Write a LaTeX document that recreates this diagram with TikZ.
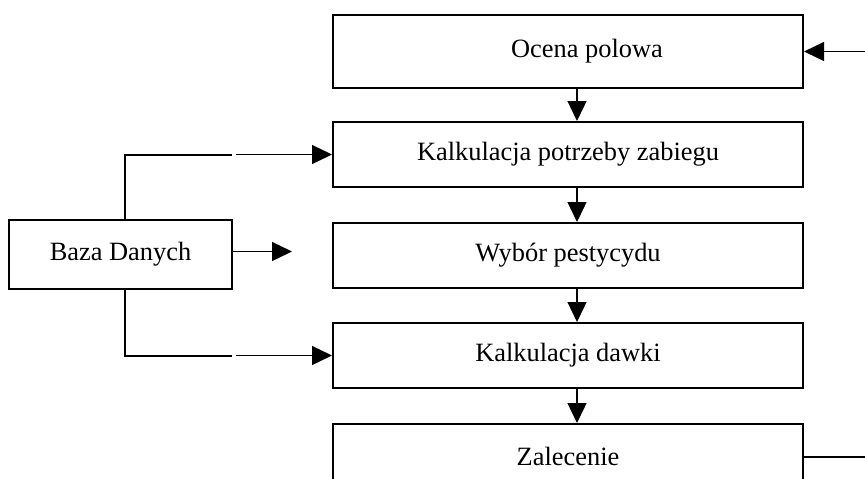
\documentclass[tikz,border=0pt]{standalone}
\usepackage{fontspec}
\setmainfont{Liberation Serif}
\usetikzlibrary{arrows.meta,positioning}

\begin{document}
\begin{tikzpicture}[
  node distance=16pt and 49.5pt,
  box/.style={rectangle, draw, line width=1pt, minimum width=235pt, minimum height=32.5pt, font=\fontsize{13.2}{16}\selectfont},
  dbbox/.style={rectangle, draw, line width=1pt, minimum width=111.5pt, minimum height=34.5pt, font=\fontsize{13.2}{16}\selectfont},
  arrow/.style={-{Triangle[length=10pt,width=9.5pt]}, line width=0.65pt},
  feed/.style={line width=1pt}
]
\useasboundingbox (0,0) rectangle (432.5pt,-239pt);

\node[box, minimum height=36.5pt] (ocena) at (284pt,-25.75pt) {\hspace*{19pt}\raisebox{-2pt}{Ocena polowa}};
\node[box, below=16pt of ocena] (kalk) {Kalkulacja potrzeby zabiegu};
\node[box, below=17pt of kalk] (wybor) {Wybór pestycydu};
\node[box, below=16.5pt of wybor] (dawka) {Kalkulacja dawki};
\node[box, below=17pt of dawka] (zalec) {Zalecenie};

\node[dbbox, left=of wybor, yshift=0.5pt] (baza) {Baza Danych};

\coordinate (wej) at (432.5pt,0 |- ocena.east);
\coordinate (wyj) at (432.5pt,0 |- zalec.east);
\coordinate[left=50pt of kalk.west] (przerwaA);
\coordinate[left=48pt of kalk.west] (startA);
\coordinate[left=50pt of dawka.west] (przerwaB);
\coordinate[left=48pt of dawka.west] (startB);
\coordinate[right=29.5pt of baza.east, yshift=1.5pt] (grotC);

\draw[arrow] (wej) -- (ocena.east);
\draw[arrow] ([xshift=4.5pt]ocena.south) -- ([xshift=4.5pt]kalk.north);
\draw[arrow] ([xshift=4.5pt]kalk.south) -- ([xshift=4.5pt]wybor.north);
\draw[arrow] ([xshift=4.5pt]wybor.south) -- ([xshift=4.5pt]dawka.north);
\draw[arrow] ([xshift=4.5pt]dawka.south) -- ([xshift=4.5pt]zalec.north);
\draw[feed] (zalec.east) -- (wyj);

\draw[feed] ([xshift=2pt]baza.north) |- (przerwaA);
\draw[arrow] (startA) -- (kalk.west);
\draw[feed] ([xshift=2pt]baza.south) |- (przerwaB);
\draw[arrow] (startB) -- (dawka.west);
\draw[arrow] ([yshift=1.5pt]baza.east) -- (grotC);

\end{tikzpicture}
\end{document}
